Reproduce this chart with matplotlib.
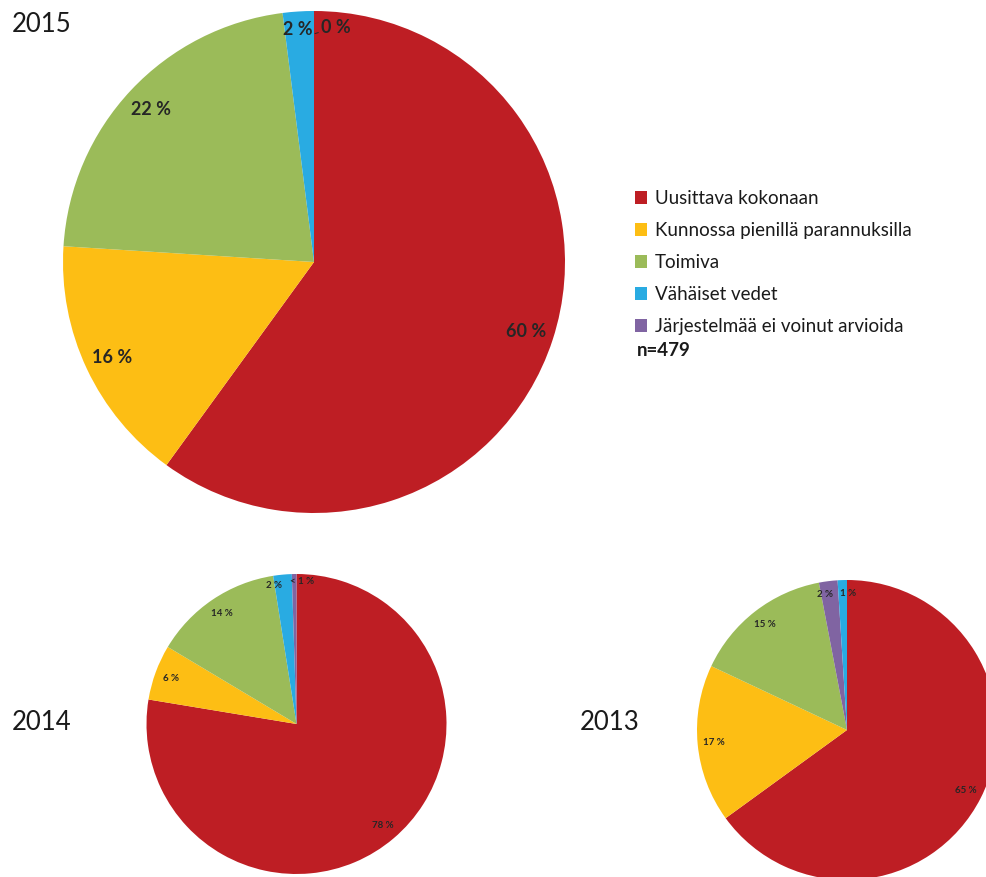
import numpy as np
import matplotlib.pyplot as plt

plt.rcParams['font.family'] = ['Lato', 'DejaVu Sans']

# luokat ja värit
categories = ["Uusittava kokonaan", "Kunnossa pienillä parannuksilla", "Toimiva",
              "Vähäiset vedet", "Järjestelmää ei voinut arvioida"]
colors = {"Uusittava kokonaan": "#BE1E24",
          "Kunnossa pienillä parannuksilla": "#FDBE14",
          "Toimiva": "#9BBB59",
          "Vähäiset vedet": "#29ABE2",
          "Järjestelmää ei voinut arvioida": "#8064A2"}

# osuudet (%), järjestys myötäpäivään klo 12:sta
order_2015 = [0, 1, 2, 3, 4]
values_2015 = [60, 16, 22, 2, 0]
labels_2015 = ["60 %", "16 %", "22 %", "2 %", "0 %"]

order_2014 = [0, 1, 2, 3, 4]
values_2014 = [78, 6, 14, 2, 0.5]
labels_2014 = ["78 %", "6 %", "14 %", "2 %", "< 1 %"]

order_2013 = [0, 1, 2, 4, 3]
values_2013 = [65, 17, 15, 2, 1]
labels_2013 = ["65 %", "17 %", "15 %", "2 %", "1 %"]

W, H = 987, 877
fig = plt.figure(figsize=(W / 100, H / 100), dpi=100)
ax = fig.add_axes([0, 0, 1, 1])

TXT = "#262626"


def draw_pie(vals, order, labels, cx, cy, r, fs):
    wedges, texts = ax.pie(vals, colors=[colors[categories[i]] for i in order],
                           startangle=90, counterclock=False, center=(cx, cy),
                           radius=r, labels=labels, labeldistance=0.89,
                           wedgeprops=dict(linewidth=0),
                           textprops=dict(fontsize=fs, fontweight='bold', color=TXT))
    for t in texts:
        t.set_ha('center')
        t.set_va('center')
    return wedges, texts


def top_label(t, w, cx, cy, r, dist, dx=0, ha='center'):
    th = np.deg2rad((w.theta1 + w.theta2) / 2)
    t.set_position((cx + r * dist * np.cos(th) + dx, cy + r * dist * np.sin(th)))
    t.set_ha(ha)


# 2015
cx, cy, r = 314, 615, 251
w15, t15 = draw_pie(values_2015, order_2015, labels_2015, cx, cy, r, 13)
top_label(t15[3], w15[3], cx, cy, r, 0.93, dx=-2)
t15[4].set_visible(False)
ax.annotate(labels_2015[4], xy=(cx + 1, cy + r * 0.91), xytext=(cx + 22, cy + r * 0.935),
            ha='center', va='center', fontsize=13, fontweight='bold', color=TXT,
            arrowprops=dict(arrowstyle='-', color=TXT, lw=0.7, shrinkA=0, shrinkB=0))

# 2014
cx, cy, r = 296.5, 153, 150
w14, t14 = draw_pie(values_2014, order_2014, labels_2014, cx, cy, r, 7)
top_label(t14[3], w14[3], cx, cy, r, 0.93, dx=-9)
top_label(t14[4], w14[4], cx, cy, r, 0.95, dx=8)

# 2013
cx, cy, r = 847, 147, 150
w13, t13 = draw_pie(values_2013, order_2013, labels_2013, cx, cy, r, 7)
top_label(t13[3], w13[3], cx, cy, r, 0.91, dx=-5)
top_label(t13[4], w13[4], cx, cy, r, 0.91, dx=5)

# vuodet
ax.text(12, H - 25, "2015", fontsize=18.5, color="#1a1a1a", va='center', ha='left')
ax.text(12, H - 722, "2014", fontsize=18.5, color="#1a1a1a", va='center', ha='left')
ax.text(580, H - 722, "2013", fontsize=18.5, color="#1a1a1a", va='center', ha='left')

# selite
leg_w = [w15[order_2015.index(i)] for i in range(len(categories))]
ax.legend(leg_w, categories, loc='upper left', bbox_to_anchor=(635 / W, 1 - 190 / H),
          frameon=False, fontsize=13.5, handlelength=0.65, handleheight=0.65,
          handletextpad=0.4, labelspacing=0.8, borderpad=0, borderaxespad=0,
          labelcolor="#1a1a1a")
ax.text(637, H - 351, "n=479", fontsize=13.5, fontweight='bold', color="#1a1a1a",
        va='center', ha='left')

ax.set_xlim(0, W)
ax.set_ylim(0, H)
ax.set_aspect('equal')
ax.axis('off')

fig.savefig("out.png", dpi=100)
